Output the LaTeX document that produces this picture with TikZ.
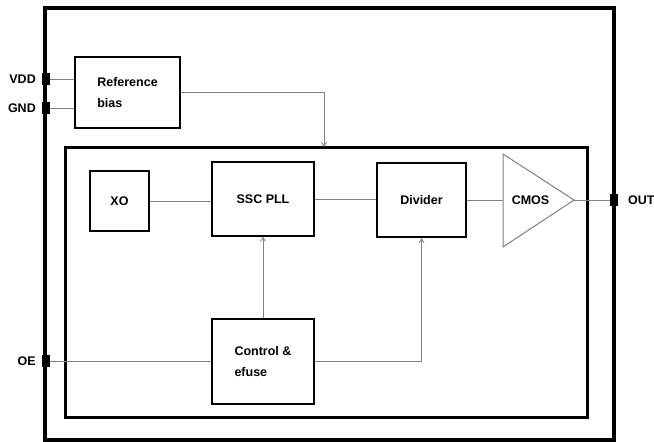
\documentclass[tikz,border=0pt]{standalone}
\usepackage{fontspec}
\setmainfont{Liberation Sans}
\usetikzlibrary{arrows.meta, positioning, calc}
\begin{document}
\begin{tikzpicture}[x=1pt, y=-1pt,
  blk/.style={draw, line width=1.4pt, font=\bfseries\fontsize{12.5}{21}\selectfont, align=left, inner sep=0pt},
  wire/.style={draw=gray, line width=0.8pt},
  sig/.style={wire, -{Straight Barb[length=4pt, width=5pt]}},
  pin/.style={fill=black, minimum width=8pt, minimum height=12pt, inner sep=0pt},
  lbl/.style={font=\bfseries\fontsize{12.5}{14}\selectfont, inner sep=0pt}
]
  \useasboundingbox (0,0) rectangle (654,442);
  % chip and core outlines
  \node[draw, line width=4pt, minimum width=569pt, minimum height=432pt, inner sep=0pt] (chip) at (329.5,224) {};
  \node[draw, line width=3pt, minimum width=522pt, minimum height=270pt, inner sep=0pt] (core) at (326,282) {};
  % blocks
  \node[blk, minimum width=105pt, minimum height=71pt] (refbias) at (127.5,92.5) {Reference\\bias};
  \node[blk, line width=2.5pt, minimum width=59pt, minimum height=60pt] (xo) at (119.5,201) {XO};
  \node[blk, minimum width=102pt, minimum height=74pt] (sscpll) at (263,199) {SSC PLL};
  \node[blk, line width=2pt, minimum width=89pt, minimum height=74pt] (divider) at (421.5,200) {Divider};
  \node[blk, minimum width=102pt, minimum height=85pt] (ctrl) at (263,361.5) {Control \&\\efuse};
  % output buffer
  \coordinate (cmosin) at (503,200);
  \coordinate (cmosout) at (574,200);
  \draw[gray, line width=1pt] (503,154) -- (cmosout) -- (503,247) -- cycle;
  \node[font=\bfseries\fontsize{12.5}{14}\selectfont] (cmos) at (530.5,200) {CMOS};
  \coordinate (biasin) at (324,147);
  % pins
  \coordinate (vdd) at (46,79);
  \coordinate (gnd) at (46,108);
  \coordinate (oe) at (46,361);
  \coordinate (out) at (614,200);
  \node[lbl, left=10pt of vdd] {VDD};
  \node[lbl, left=10pt of gnd] {GND};
  \node[lbl, left=10pt of oe] {OE};
  \node[lbl, right=14pt of out] {OUT};
  % connections
  \draw[wire] (vdd) -- (vdd -| refbias.west);
  \draw[wire] (gnd) -- (gnd -| refbias.west);
  \draw[sig] (refbias.east) -| (biasin);
  \draw[wire] (xo.east) -- (xo.east -| sscpll.west);
  \draw[wire] (sscpll.east) -- (sscpll.east -| divider.west);
  \draw[wire] (divider.east) -- (cmosin);
  \draw[wire] (cmosout) -- (out);
  \draw[wire] (oe) -- (oe -| ctrl.west);
  \draw[sig] (ctrl.north) -- (sscpll.south);
  \draw[sig] (ctrl.east) -| (divider.south);
  \node[pin] at (vdd) {};
  \node[pin] at (gnd) {};
  \node[pin] at (oe) {};
  \node[pin] at (out) {};
\end{tikzpicture}
\end{document}
